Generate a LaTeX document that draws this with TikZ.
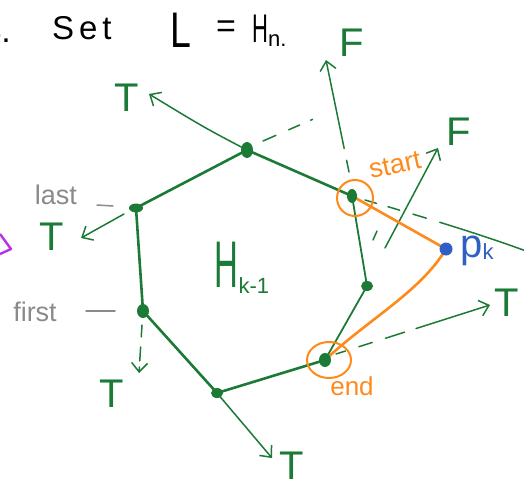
\documentclass[tikz,border=0pt]{standalone}
\usepackage{fontspec}
\usepackage{graphicx}
\setmainfont{Liberation Sans}
\newfontfamily\spacedfont[LetterSpace=15]{Liberation Sans}
\usetikzlibrary{arrows.meta}
\definecolor{hg}{HTML}{1B7A35}
\definecolor{ho}{HTML}{FF8A1C}
\definecolor{hb}{HTML}{2F5FC4}
\definecolor{hgray}{HTML}{8A8A8A}
\definecolor{hp}{HTML}{B830E8}
\tikzset{
  hulledge/.style={hg, line width=2.6pt, line cap=round},
  thinedge/.style={hg, line width=1.8pt, line cap=round},
  ray/.style={hg, line width=1.5pt, line cap=round,
    -{Straight Barb[length=9pt,width=16pt,line width=1.5pt]}},
  plainray/.style={hg, line width=1.5pt, line cap=round},
  tflabel/.style={hg, font=\fontsize{40}{40}\selectfont, inner sep=0pt},
  graylabel/.style={hgray, font=\fontsize{27}{27}\selectfont, inner sep=0pt},
  graydash/.style={hgray, line width=1.5pt, line cap=round},
  orangeline/.style={ho, line width=2.6pt, line cap=round},
  orangering/.style={ho, line width=2pt},
  orangelabel/.style={ho, font=\fontsize{27}{27}\selectfont, inner sep=0pt},
  titletext/.style={black, inner sep=0pt, anchor=base west},
}
\begin{document}
\begin{tikzpicture}[x=1pt,y=-1pt]
\clip (0,0) rectangle (524,487);

% title
\node[black, inner sep=0pt, anchor=base east, font=\fontsize{34}{34}\selectfont] (t4) at (11,42) {4.};
\node[titletext, font=\fontsize{33}{33}\selectfont\spacedfont] (tset) at (52,40) {Set};
\node[titletext, font=\fontsize{50}{50}\selectfont] (tL) at (170,48) {\scalebox{0.75}[1]{L}};
\node[black, inner sep=0pt, font=\fontsize{34}{34}\selectfont] (teq) at (226,29) {=};
\node[titletext, font=\fontsize{40}{40}\selectfont] (tH) at (252,42) {\scalebox{0.55}[1]{H}\raisebox{-4pt}{\fontsize{22}{22}\selectfont n.}};

% hull vertices
\coordinate (v1) at (247,150);
\coordinate (v2) at (352,196);
\coordinate (v3) at (367,286);
\coordinate (v4) at (325,360);
\coordinate (v5) at (217,393);
\coordinate (v6) at (143,311);
\coordinate (v7) at (136,208);
\coordinate (pk) at (446,249);

% rays
\coordinate (a1) at (149,94);
\coordinate (s2) at (349,172);
\coordinate (a2) at (326,60);
\coordinate (s3) at (385,248);
\coordinate (a3) at (438,148);
\coordinate (s3b) at (373,240);
\coordinate (e3b) at (377,231);
\coordinate (s4) at (336,354);
\coordinate (a4) at (490,305);
\coordinate (a5) at (272,458);
\coordinate (s6) at (142,325);
\coordinate (a6) at (139,373);
\coordinate (s7) at (124,214);
\coordinate (a7) at (81,238);
\coordinate (s8) at (263,141);
\coordinate (e8) at (318,117);
\coordinate (s9) at (365,200);
\coordinate (e9) at (526,251);

\draw[ray] (v1) .. controls (205,128) .. (a1);
\draw[ray, dash pattern=on 12pt off 12pt on 200pt] (s2) -- (a2);
\draw[ray] (s3) -- (a3);
\draw[plainray] (s3b) -- (e3b);
\draw[ray, dash pattern=on 10pt off 14pt on 14pt off 14pt on 20pt off 12pt on 200pt] (s4) -- (a4);
\draw[ray] (v5) -- (a5);
\draw[ray, dash pattern=on 12pt off 10pt on 14pt off 6pt on 100pt] (s6) -- (a6);
\draw[ray] (s7) -- (a7);
\draw[plainray, dash pattern=on 14pt off 14pt on 12pt off 12pt on 2pt] (s8) -- (e8);
\draw[plainray, dash pattern=on 12pt off 12pt on 12pt off 14pt on 14pt off 14pt on 300pt] (s9) .. controls (420,216) and (480,234) .. (e9);

% hull edges
\draw[hulledge] (v7) -- (v1);
\draw[hulledge] (v1) -- (v2);
\draw[thinedge] (v2) -- (v3);
\draw[thinedge] (v3) -- (v4);
\draw[hulledge] (v4) -- (v5);
\draw[hulledge] (v5) -- (v6);
\draw[hulledge] (v6) -- (v7);

% orange
\draw[orangeline] (v2) -- (pk);
\draw[orangeline] (pk) .. controls (420,292) and (370,318) .. (v4);
\draw[orangering] (355,198) circle[radius=18];
\draw[orangering] (329,360) ellipse[x radius=22, y radius=18];

% vertex dots
\fill[hg] (v1) ellipse[x radius=6, y radius=8];
\fill[hg] (v2) ellipse[x radius=5, y radius=7];
\fill[hg] (v3) ellipse[x radius=6, y radius=5];
\fill[hg] (v4) ellipse[x radius=6, y radius=7];
\fill[hg] (v5) ellipse[x radius=6, y radius=5];
\fill[hg] (v6) ellipse[x radius=6, y radius=7];
\fill[hg] (v7) ellipse[x radius=7, y radius=4.5];
\fill[hb] (pk) circle[radius=6.5];

% labels
\node[tflabel] (lT1) at (127,98) {T};
\node[tflabel] (lF1) at (352,43) {F};
\node[tflabel] (lF2) at (459,132) {F};
\node[tflabel] (lT2) at (507,303) {T};
\node[tflabel] (lT3) at (52,237) {T};
\node[tflabel] (lT4) at (112,394) {T};
\node[tflabel] (lT5) at (292,466) {T};

\node[hg, inner sep=0pt] (lH) at (242,268)
  {\fontsize{66}{66}\selectfont\scalebox{0.5}[1]{H}\raisebox{-6pt}{\fontsize{22}{22}\selectfont k-1}};

\node[graylabel] (llast) at (56,195) {last};
\node[graylabel] (lfirst) at (35,312) {first};
\coordinate (d1a) at (97,205);
\coordinate (d1b) at (113,206);
\coordinate (d2a) at (86,311);
\coordinate (d2b) at (115,311);
\draw[graydash] (d1a) -- (d1b);
\draw[graydash] (d2a) -- (d2b);

\node[orangelabel, rotate=12] (lstart) at (395,165) {start};
\node[orangelabel, font=\fontsize{26}{26}\selectfont] (lend) at (352,386) {end};

\node[hb, inner sep=0pt] (lpk) at (477,251)
  {\fontsize{40}{40}\selectfont p\raisebox{-2pt}{\fontsize{22}{22}\selectfont k}};

% purple fragment
\coordinate (pu1) at (0,234);
\coordinate (pu2) at (11,249);
\coordinate (pu3) at (0,254);
\draw[hp, line width=2.4pt, line join=round] (pu1) -- (pu2) -- (pu3);
\end{tikzpicture}
\end{document}
